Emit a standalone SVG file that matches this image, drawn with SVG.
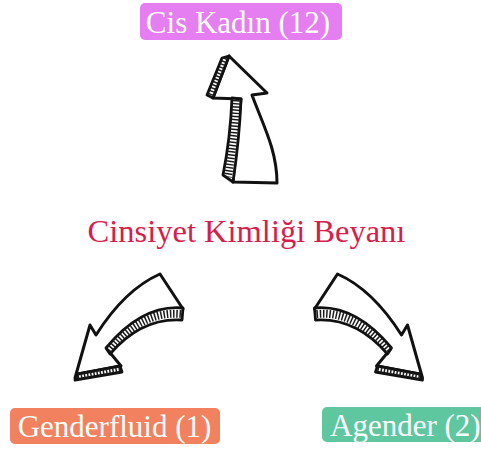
<svg xmlns="http://www.w3.org/2000/svg" width="481" height="449" viewBox="0 0 481 449">
<style>
.lbl{font-family:"Liberation Serif","Times New Roman",serif;font-size:31px;fill:#ffffff}
.title{font-family:"Liberation Serif","Times New Roman",serif;font-size:32.5px;fill:#d81d4c}
.body{fill:#ffffff;stroke:#111;stroke-width:3;stroke-linejoin:round;stroke-linecap:round}
.strip{fill:#ffffff;stroke:#111;stroke-width:2.8;stroke-linejoin:round}
.hatch{fill:none;stroke:#1a1a1a;stroke-dasharray:1.5 1.7}
</style>
<rect width="481" height="449" fill="#ffffff"/>
<g id="connectors">
  <g id="arrow-top">
    <path class="body" d="M229,56 L267,93 L252,95 C263,125 277,150 277,183 L233,182 C236,150 239,120 241,99 L213,98 Z"/>
    <path class="strip" d="M222,58 L229,56 L213,98 L207,95 Z"/>
    <path class="hatch" stroke-width="5.5" d="M225.5,58 L210.5,95.5"/>
    <path class="strip" d="M232,98 L241,99 C240,125 237,155 233,182 L223,175 C228,150 231,122 232,98 Z"/>
    <path class="hatch" stroke-width="8" d="M236.5,100 C235,125 232,152 228,177"/>
  </g>
  <g id="arrow-left">
    <path class="body" d="M75,378 L90,325 L96,335 C115,305 135,285 160,274 L183,309 C150,306 125,326 107,349 L121,366 L78,374 Z"/>
    <path class="strip" d="M183,308 C150,305 125,325 106,348 L110,354 C128,333 152,318 182,320 Z"/>
    <path class="hatch" stroke-width="8" d="M181,314 C151,311 126,329 108,351"/>
    <path class="strip" d="M120,366 L122,372 L75,380 L78,374 Z"/>
    <path class="hatch" stroke-width="5.5" d="M120,369 L77,377"/>
  </g>
  <g id="arrow-right" transform="matrix(-1 0 0 1 497.5 0)">
    <path class="body" d="M75,378 L90,325 L96,335 C115,305 135,285 160,274 L183,309 C150,306 125,326 107,349 L121,366 L78,374 Z"/>
    <path class="strip" d="M183,308 C150,305 125,325 106,348 L110,354 C128,333 152,318 182,320 Z"/>
    <path class="hatch" stroke-width="8" d="M181,314 C151,311 126,329 108,351"/>
    <path class="strip" d="M120,366 L122,372 L75,380 L78,374 Z"/>
    <path class="hatch" stroke-width="5.5" d="M120,369 L77,377"/>
  </g>
</g>
<g id="title">
  <text class="title" x="246.5" y="242" text-anchor="middle">Cinsiyet Kimliği Beyanı</text>
</g>
<g id="node-cis-kadin">
  <rect x="140" y="3" width="202" height="37" rx="5" fill="#e57ef0"/>
  <text class="lbl" x="238" y="33" text-anchor="middle">Cis Kadın (12)</text>
</g>
<g id="node-genderfluid">
  <rect x="10" y="408" width="210" height="36" rx="5" fill="#f2825f"/>
  <text class="lbl" x="114.5" y="437" text-anchor="middle">Genderfluid (1)</text>
</g>
<g id="node-agender">
  <rect x="322" y="407" width="165" height="35" rx="5" fill="#5fc79f"/>
  <text class="lbl" x="330" y="436">Agender (2)</text>
</g>
</svg>
